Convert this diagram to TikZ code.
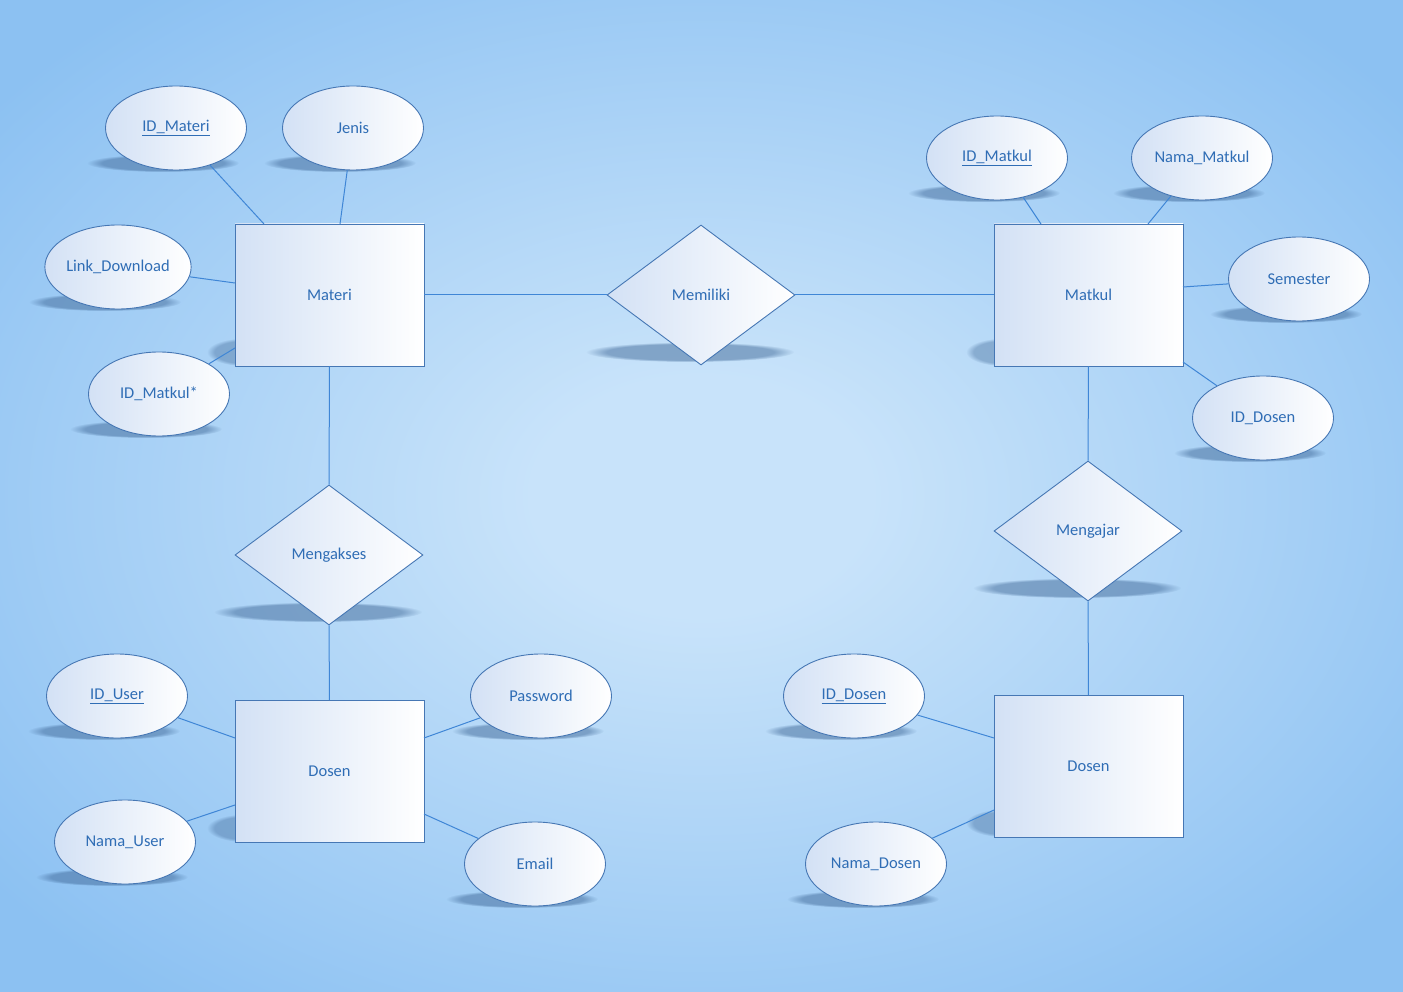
\documentclass[tikz,border=0pt]{standalone}
\usepackage{fontspec}
\setmainfont{Carlito}
\usetikzlibrary{shapes.geometric,fadings}
\definecolor{bgin}{HTML}{C8E3FA}
\definecolor{bgout}{HTML}{8CC1F2}
\definecolor{edge}{HTML}{4677B4}
\definecolor{conn}{HTML}{3F86D6}
\definecolor{txt}{HTML}{2F6DB5}
\definecolor{fillL}{HTML}{D3E1F5}
\definecolor{shad}{HTML}{3F6898}
\pgfdeclareradialshading{bgshade}{\pgfpoint{0bp}{0bp}}{color(0bp)=(bgin); color(6bp)=(bgin); color(32bp)=(bgout); color(50bp)=(bgout)}
\begin{document}
\begin{tikzpicture}[x=1pt,y=-1pt,
  every node/.style={font=\fontsize{16.5}{19}\selectfont, text=txt},
  ent/.style={rectangle, draw=edge, line width=0.9pt, left color=fillL, right color=white, minimum width=189pt, minimum height=142pt, inner sep=0pt},
  rel/.style={diamond, draw=edge, line width=0.9pt, left color=fillL, right color=white, minimum width=188pt, minimum height=140pt, inner sep=0pt, aspect=1.34},
  attr/.style={ellipse, draw=edge, line width=0.9pt, left color=fillL, right color=white, minimum width=141pt, minimum height=84pt, inner sep=0pt},
  link/.style={draw=conn, line width=1pt},
  sh/.style={fill=shad, path fading=circle with fuzzy edge 20 percent, fill opacity=0.5},
]
% background
\useasboundingbox (0,0) rectangle (1403,992);
\shade[shading=bgshade] (0,0) rectangle (1403,992);

% shadows of attributes (ellipse centre + (-13,35))
\foreach \cx/\cy in {176/128, 353/128, 118/267, 159/394, 997/158, 1202/158, 1299/279, 1263/418, 117/696, 125/842, 541/696, 535/864, 854/696, 876/864}{
  \fill[sh] (\cx-13,\cy+35) ellipse [x radius=76, y radius=9];
}
% shadows of relationships
\foreach \cx/\cy in {701/295, 329/555, 1088/531}{
  \fill[sh] (\cx-11,\cy+57) ellipse [x radius=104, y radius=10];
}
% shadows of entities (bottom-left corner)
\foreach \lx/\by in {235/366, 994/366, 235/842, 994/837}{
  \fill[sh, fill opacity=0.4] (\lx+10,\by-14) ellipse [x radius=38, y radius=14];
}

% entities and relationships
\node[ent] (materi) at (329.5,295) {Materi};
\node[rel] (memiliki) at (701,295) {Memiliki};
\node[ent] (matkul) at (1088.5,295) {Matkul};
\node[rel] (mengakses) at (329,555) {Mengakses};
\node[rel] (mengajar) at (1088,531) {Mengajar};
\node[ent] (dosenA) at (329.5,771.5) {Dosen};
\node[ent] (dosenB) at (1088.5,766.5) {Dosen};

% attributes
\node[attr] (idmateri) at (176,128) {\underline{ID\_Materi}};
\node[attr] (jenis) at (353,128) {Jenis};
\node[attr] (link) at (118,267) {Link\_Download};
\node[attr] (idmatkulfk) at (159,394) {ID\_Matkul*};
\node[attr] (idmatkul) at (997,158) {\underline{ID\_Matkul}};
\node[attr] (namamatkul) at (1202,158) {Nama\_Matkul};
\node[attr] (semester) at (1299,279) {Semester};
\node[attr] (iddosenfk) at (1263,418) {ID\_Dosen};
\node[attr] (iduser) at (117,696) {\underline{ID\_User}};
\node[attr] (namauser) at (125,842) {Nama\_User};
\node[attr] (password) at (541,696) {Password};
\node[attr] (email) at (535,864) {Email};
\node[attr] (iddosen) at (854,696) {\underline{ID\_Dosen}};
\node[attr] (namadosen) at (876,864) {Nama\_Dosen};

% attachment points on entity borders
\coordinate (m1) at (264,224);
\coordinate (m2) at (340,224);
\coordinate (m3) at (235,283);
\coordinate (m4) at (235,348);
\coordinate (k1) at (1041,224);
\coordinate (k2) at (1148,224);
\coordinate (k3) at (1183,287);
\coordinate (k4) at (1183,362);
\coordinate (a1) at (235,738);
\coordinate (a2) at (235,805);
\coordinate (a3) at (424,738);
\coordinate (a4) at (424,814);
\coordinate (b1) at (994,738);
\coordinate (b2) at (994,810);

% attribute connectors
\draw[link] (idmateri) -- (m1);
\draw[link] (jenis) -- (m2);
\draw[link] (link) -- (m3);
\draw[link] (idmatkulfk) -- (m4);
\draw[link] (idmatkul) -- (k1);
\draw[link] (namamatkul) -- (k2);
\draw[link] (semester) -- (k3);
\draw[link] (iddosenfk) -- (k4);
\draw[link] (iduser) -- (a1);
\draw[link] (namauser) -- (a2);
\draw[link] (password) -- (a3);
\draw[link] (email) -- (a4);
\draw[link] (iddosen) -- (b1);
\draw[link] (namadosen) -- (b2);

% relationship connectors
\draw[link] (materi) -- (memiliki);
\draw[link] (memiliki) -- (matkul);
\draw[link] (materi) -- (mengakses);
\draw[link] (mengakses) -- (dosenA);
\draw[link] (matkul) -- (mengajar);
\draw[link] (mengajar) -- (dosenB);
\end{tikzpicture}
\end{document}
